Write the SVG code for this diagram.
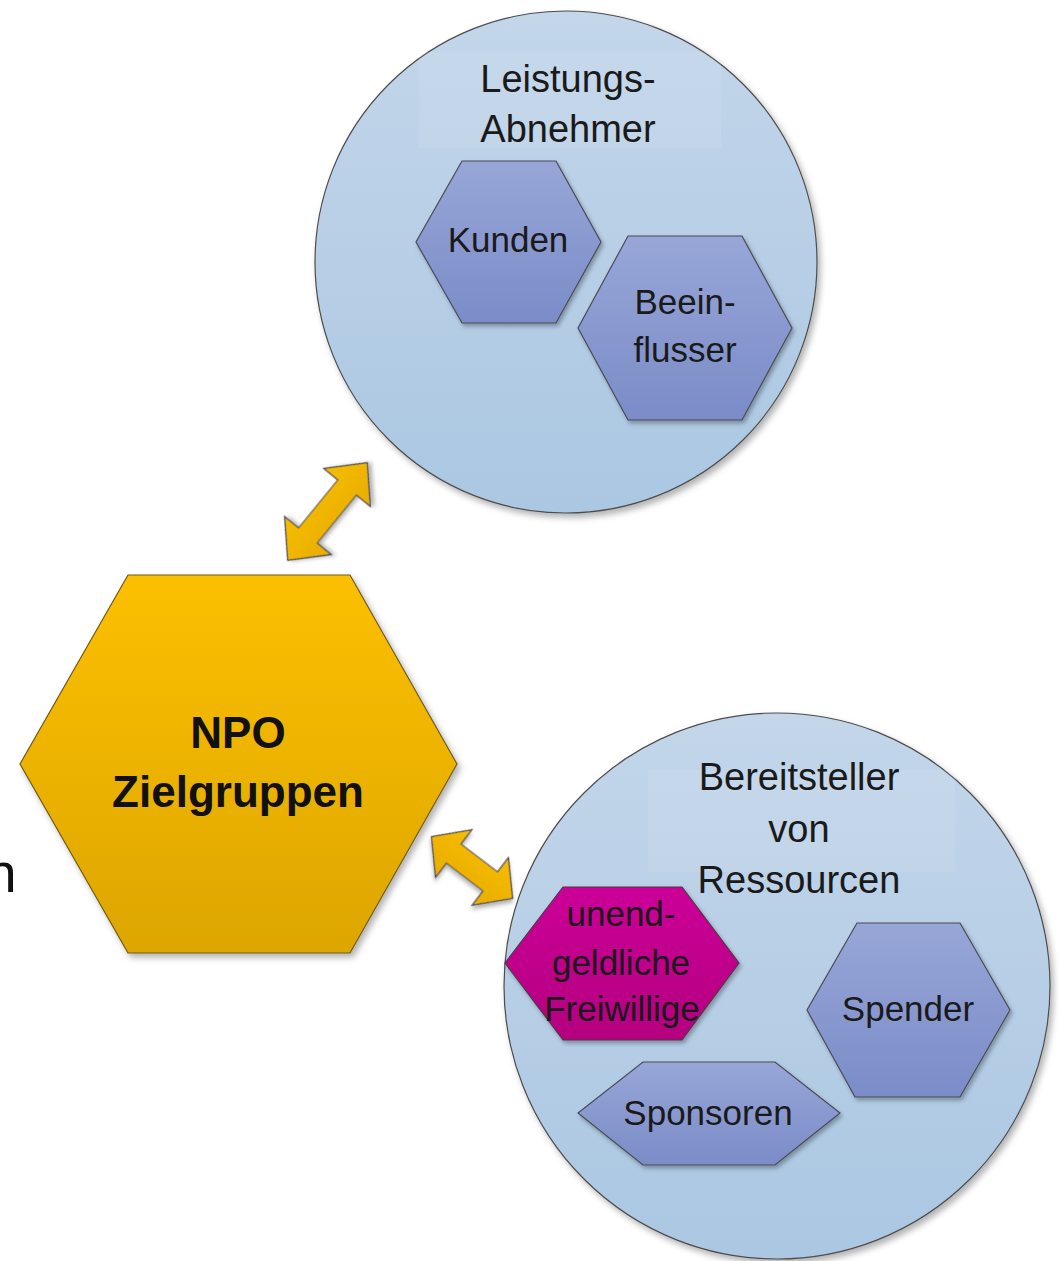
<svg xmlns="http://www.w3.org/2000/svg" width="1059" height="1261" viewBox="0 0 1059 1261">
  <style>
    text { font-family: "Liberation Sans", Arial, sans-serif; fill: #1a1a1a; text-anchor: middle; }
    .head { font-size: 38px; }
    .lbl { font-size: 35px; }
    .npo { font-size: 44px; font-weight: bold; fill: #111; }
    .circle { fill: url(#gCircle); stroke: #4d4d4d; stroke-width: 1.2; filter: url(#shadow); }
    .hex { fill: url(#gHex); stroke: #4a4a55; stroke-width: 1.2; filter: url(#shadowS); }
    .hexm { fill: url(#gMag); stroke: #4a3a45; stroke-width: 1.2; filter: url(#shadowS); }
    .npohex { fill: url(#gGold); stroke: #6e5a1a; stroke-width: 1.2; filter: url(#shadow); }
    .arrow { fill: url(#gArrow); stroke: #4d4d4d; stroke-width: 1.2; filter: url(#shadowS); }
    .hbox { fill: #ffffff; fill-opacity: 0.08; }
  </style>
  <defs>
    <linearGradient id="gCircle" x1="0" y1="0" x2="0" y2="1">
      <stop offset="0" stop-color="#c3d6ea"/>
      <stop offset="1" stop-color="#abc7e2"/>
    </linearGradient>
    <linearGradient id="gHex" x1="0" y1="0" x2="0" y2="1">
      <stop offset="0" stop-color="#98a6d7"/>
      <stop offset="1" stop-color="#7a8cc8"/>
    </linearGradient>
    <linearGradient id="gMag" x1="0" y1="0" x2="0" y2="1">
      <stop offset="0" stop-color="#cc0098"/>
      <stop offset="1" stop-color="#b4007f"/>
    </linearGradient>
    <linearGradient id="gGold" x1="0" y1="0" x2="0" y2="1">
      <stop offset="0" stop-color="#fcc000"/>
      <stop offset="1" stop-color="#dda600"/>
    </linearGradient>
    <linearGradient id="gArrow" x1="0" y1="0" x2="0" y2="1">
      <stop offset="0" stop-color="#f7bd00"/>
      <stop offset="1" stop-color="#e8ad00"/>
    </linearGradient>
    <filter id="shadow" x="-10%" y="-10%" width="125%" height="125%">
      <feDropShadow dx="3" dy="4" stdDeviation="3" flood-color="#000" flood-opacity="0.3"/>
    </filter>
    <filter id="shadowS" x="-15%" y="-15%" width="135%" height="135%">
      <feDropShadow dx="2" dy="3" stdDeviation="2" flood-color="#000" flood-opacity="0.3"/>
    </filter>
  </defs>

  <rect width="1059" height="1261" fill="#ffffff"/>

  <!-- stray text fragment at left edge, cut off as in the picture -->
  <text x="-14" y="892" style="font-size:55px; text-anchor:start; fill:#111;">n</text>

  <g id="leistungsabnehmer">
    <circle class="circle" cx="566" cy="262" r="251"/>
    <rect class="hbox" x="419" y="52" width="302" height="96"/>
    <text class="head" x="568" y="92">Leistungs-</text>
    <text class="head" x="568" y="142">Abnehmer</text>
  </g>

  <g id="kunden">
    <polygon class="hex" points="462,161 556,161 601,242 556,323 462,323 416,242"/>
    <text class="lbl" x="508" y="252">Kunden</text>
  </g>

  <g id="beeinflusser">
    <polygon class="hex" points="628,236 742,236 792,328 742,420 628,420 578,328"/>
    <text class="lbl" x="685" y="314">Beein-</text>
    <text class="lbl" x="685" y="362">flusser</text>
  </g>

  <g id="bereitsteller">
    <circle class="circle" cx="777" cy="986" r="273"/>
    <rect class="hbox" x="648" y="770" width="307" height="102"/>
    <text class="head" x="799" y="790">Bereitsteller</text>
    <text class="head" x="799" y="842">von</text>
    <text class="head" x="799" y="893">Ressourcen</text>
  </g>

  <g id="freiwillige">
    <polygon class="hexm" points="563,887 682,887 739,963 682,1040 563,1040 505,963"/>
    <text class="lbl" x="621" y="926">unend-</text>
    <text class="lbl" x="621" y="975">geldliche</text>
    <text class="lbl" x="622" y="1021">Freiwillige</text>
  </g>

  <g id="spender">
    <polygon class="hex" points="857,923 960,923 1010,1010 960,1097 855,1097 807,1010"/>
    <text class="lbl" x="908" y="1021">Spender</text>
  </g>

  <g id="sponsoren">
    <polygon class="hex" points="643,1062 775,1062 840,1113 775,1165 643,1165 578,1113"/>
    <text class="lbl" x="708" y="1125">Sponsoren</text>
  </g>

  <g id="npo">
    <polygon class="npohex" points="128,575 350,575 457,764 350,953 128,953 20,764"/>
    <text class="npo" x="238" y="748">NPO</text>
    <text class="npo" x="238" y="807">Zielgruppen</text>
  </g>

  <g id="connectors">
    <polygon class="arrow" transform="translate(327.5,511.5) rotate(-50.8)"
      points="63,0 31,-30 31,-12 -31,-12 -31,-30 -63,0 -31,30 -31,12 31,12 31,30"/>
    <polygon class="arrow" transform="translate(472,867.5) rotate(37.3)"
      points="51,0 23,-30 23,-12 -23,-12 -23,-30 -51,0 -23,30 -23,12 23,12 23,30"/>
  </g>
</svg>
